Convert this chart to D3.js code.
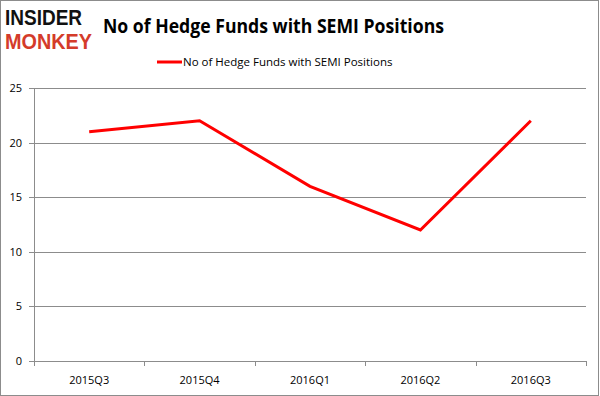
<!DOCTYPE html>
<html>
<head>
<meta charset="utf-8">
<script src="https://cdnjs.cloudflare.com/ajax/libs/d3/7.8.5/d3.min.js"></script>
<style>
  body { margin: 0; background: #fff; }
  svg text { font-family: "Open Sans", "DejaVu Sans", sans-serif; }
  svg text.logo { font-family: "Liberation Sans", Arial, sans-serif; }
</style>
</head>
<body>
<div id="chart"></div>
<script>
// data
const quarters = ["2015Q3", "2015Q4", "2016Q1", "2016Q2", "2016Q3"];
const funds = [21, 22, 16, 12, 22];
const yTicks = [0, 5, 10, 15, 20, 25];
const seriesName = "No of Hedge Funds with SEMI Positions";

const width = 600, height = 396;
const margin = { top: 88, bottom: 35, left: 34, right: 14 };

const svg = d3.select("#chart").append("svg")
  .attr("width", width)
  .attr("height", height);

// outer frame
svg.append("rect")
  .attr("x", 0.5).attr("y", 0.5)
  .attr("width", width - 2).attr("height", height - 1)
  .attr("fill", "#fff")
  .attr("stroke", "#8c8c8c");

// scales
const xScale = d3.scaleBand()
  .domain(quarters)
  .range([margin.left, width - margin.right]);

const yScale = d3.scaleLinear()
  .domain([0, 25])
  .range([height - margin.bottom, margin.top]);

// gridlines
svg.append("g")
  .selectAll("line")
  .data(yTicks)
  .join("line")
  .attr("x1", margin.left - 5)
  .attr("x2", width - margin.right)
  .attr("y1", d => Math.round(yScale(d)) + 0.5)
  .attr("y2", d => Math.round(yScale(d)) + 0.5)
  .attr("stroke", "#8c8c8c");

// y axis line
svg.append("line")
  .attr("x1", margin.left + 0.5).attr("x2", margin.left + 0.5)
  .attr("y1", yScale(25)).attr("y2", yScale(0) + 5)
  .attr("stroke", "#8c8c8c");

// x ticks
const xEdges = quarters.map(q => xScale(q)).concat([xScale.range()[1]]);
svg.append("g")
  .selectAll("line")
  .data(xEdges.slice(1))
  .join("line")
  .attr("x1", d => Math.round(d) + 0.5)
  .attr("x2", d => Math.round(d) + 0.5)
  .attr("y1", yScale(0))
  .attr("y2", yScale(0) + 5)
  .attr("stroke", "#8c8c8c");

// y labels
svg.append("g")
  .selectAll("text")
  .data(yTicks)
  .join("text")
  .attr("x", 22)
  .attr("y", d => yScale(d) + 4)
  .attr("text-anchor", "end")
  .attr("font-size", 11)
  .attr("fill", "#000")
  .text(d => d);

// x labels
svg.append("g")
  .selectAll("text")
  .data(quarters)
  .join("text")
  .attr("x", d => xScale(d) + xScale.bandwidth() / 2)
  .attr("y", yScale(0) + 23)
  .attr("text-anchor", "middle")
  .attr("font-size", 11)
  .attr("fill", "#000")
  .text(d => d);

// line
const line = d3.line()
  .x((d, i) => xScale(quarters[i]) + xScale.bandwidth() / 2)
  .y(d => yScale(d));

svg.append("path")
  .datum(funds)
  .attr("d", line)
  .attr("fill", "none")
  .attr("stroke", "#ff0000")
  .attr("stroke-width", 3);

// legend
svg.append("line")
  .attr("x1", 157).attr("x2", 182)
  .attr("y1", 62).attr("y2", 62)
  .attr("stroke", "#ff0000")
  .attr("stroke-width", 3);
svg.append("text")
  .attr("x", 183).attr("y", 66)
  .attr("font-size", 11.5)
  .attr("fill", "#000")
  .text(seriesName);

// title
svg.append("text")
  .attr("x", 103).attr("y", 33)
  .attr("font-size", 20)
  .attr("font-weight", "bold")
  .attr("textLength", 341)
  .attr("lengthAdjust", "spacingAndGlyphs")
  .attr("fill", "#000")
  .text("No of Hedge Funds with SEMI Positions");

// logo, stretched vertically
const logo = svg.append("g").attr("transform", "translate(5,0) scale(1,1.3)");
logo.append("text")
  .attr("class", "logo")
  .attr("x", 0).attr("y", 19.5)
  .attr("font-size", 17)
  .attr("font-weight", "bold")
  .attr("textLength", 77)
  .attr("lengthAdjust", "spacingAndGlyphs")
  .attr("fill", "#111")
  .text("INSIDER");
logo.append("text")
  .attr("class", "logo")
  .attr("x", 0).attr("y", 37.5)
  .attr("font-size", 17)
  .attr("font-weight", "bold")
  .attr("textLength", 87)
  .attr("lengthAdjust", "spacingAndGlyphs")
  .attr("fill", "#d43b2a")
  .text("MONKEY");
</script>
</body>
</html>
